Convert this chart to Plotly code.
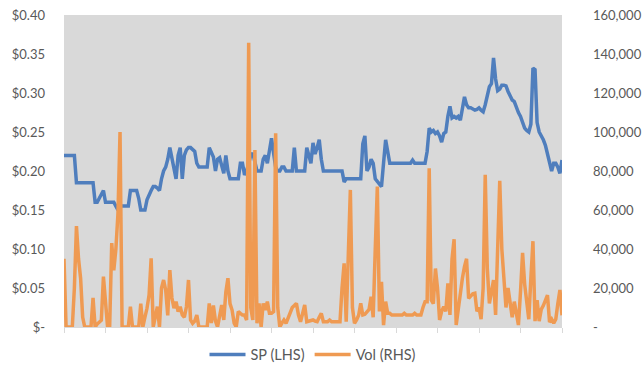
import plotly.graph_objects as go

# Share price ($), one value per trading day
sp = [
    0.22, 0.22, 0.22, 0.22, 0.22, 0.22, 0.185, 0.185, 0.185, 0.185,
    0.185, 0.185, 0.185, 0.185, 0.185, 0.16, 0.16, 0.165, 0.17, 0.175,
    0.16, 0.16, 0.16, 0.16, 0.16, 0.155, 0.15, 0.155, 0.155, 0.155,
    0.155, 0.155, 0.175, 0.175, 0.175, 0.175, 0.165, 0.15, 0.15, 0.15,
    0.163, 0.17, 0.175, 0.18, 0.18, 0.178, 0.175, 0.19, 0.2, 0.205,
    0.215, 0.23, 0.215, 0.2, 0.19, 0.22, 0.23, 0.19, 0.22, 0.227,
    0.23, 0.23, 0.227, 0.225, 0.21, 0.205, 0.205, 0.205, 0.205, 0.205,
    0.23, 0.225, 0.218, 0.2, 0.215, 0.217, 0.205, 0.197, 0.22, 0.2,
    0.19, 0.19, 0.19, 0.19, 0.19, 0.21, 0.21, 0.195, 0.2, 0.21,
    0.22, 0.223, 0.21, 0.2, 0.2, 0.2, 0.215, 0.22, 0.21, 0.225,
    0.242, 0.223, 0.205, 0.2, 0.2, 0.205, 0.205, 0.2, 0.2, 0.2,
    0.2, 0.23, 0.2, 0.2, 0.2, 0.2, 0.2, 0.23, 0.22, 0.21,
    0.236, 0.222, 0.23, 0.24, 0.215, 0.2, 0.2, 0.2, 0.2, 0.2,
    0.2, 0.2, 0.2, 0.2, 0.2, 0.186, 0.19, 0.19, 0.19, 0.19,
    0.19, 0.19, 0.19, 0.19, 0.235, 0.245, 0.2, 0.205, 0.215, 0.21,
    0.19, 0.186, 0.182, 0.18, 0.21, 0.24, 0.225, 0.21, 0.21, 0.21,
    0.21, 0.21, 0.21, 0.21, 0.21, 0.21, 0.21, 0.21, 0.214, 0.21,
    0.21, 0.21, 0.21, 0.21, 0.21, 0.225, 0.255, 0.25, 0.252, 0.248,
    0.25, 0.245, 0.237, 0.248, 0.25, 0.27, 0.283, 0.268, 0.27, 0.268,
    0.27, 0.265, 0.282, 0.295, 0.285, 0.281, 0.281, 0.279, 0.278, 0.279,
    0.281, 0.278, 0.276, 0.285, 0.298, 0.308, 0.312, 0.345, 0.318, 0.303,
    0.305, 0.31, 0.31, 0.309, 0.302, 0.297, 0.291, 0.289, 0.281, 0.275,
    0.27, 0.262, 0.255, 0.252, 0.25, 0.26, 0.332, 0.33, 0.262, 0.25,
    0.246, 0.24, 0.233, 0.222, 0.21, 0.2, 0.21, 0.21, 0.205, 0.197,
    0.214,
]

# Daily volume (shares)
vol = [
    35000, 0, 0, 0, 0, 20000, 51800, 35000, 25000, 5000,
    0, 0, 0, 0, 15000, 0, 1500, 2500, 3500, 25800,
    10000, 0, 0, 43000, 29000, 40000, 58000, 100000, 0, 0,
    0, 0, 10400, 0, 0, 0, 0, 12000, 0, 5000,
    9600, 16400, 35200, 0, 5000, 10400, 0, 20000, 24100, 19000,
    6000, 29200, 15000, 9600, 13000, 7900, 10400, 6150, 5000, 10400,
    24100, 3600, 1900, 3000, 6150, 0, 0, 0, 0, 0,
    12100, 2000, 11000, 3000, 0, 5000, 11300, 3600, 18000, 25000,
    12000, 8700, 2000, 0, 7900, 7000, 6150, 6150, 3600, 145800,
    10000, 3600, 90800, 1900, 12100, 0, 12100, 8700, 13000, 7000,
    7000, 7900, 99300, 10000, 0, 2000, 3600, 1900, 5000, 7900,
    10000, 11000, 12100, 6150, 2700, 7000, 11300, 2700, 3000, 3600,
    3600, 3000, 2700, 5000, 7000, 2700, 2700, 2700, 3600, 2700,
    2700, 2700, 2700, 2700, 20000, 32600, 2700, 40000, 70300, 10000,
    1900, 3600, 6000, 12100, 6150, 6500, 7500, 9000, 15500, 5000,
    40000, 72000, 8000, 23200, 1000, 13000, 7000, 7000, 6150, 6150,
    6150, 6150, 6150, 6150, 7000, 6150, 6150, 6150, 6150, 7000,
    6150, 6150, 6150, 10000, 13000, 13000, 81400, 13800, 12000, 30000,
    20000, 3600, 8000, 10400, 8000, 22400, 6150, 35000, 45000, 1000,
    10000, 19000, 25000, 31000, 35000, 14700, 16000, 17000, 17300, 8000,
    10000, 4000, 20000, 78000, 30000, 12100, 18000, 24100, 6150, 40000,
    75000, 40000, 22000, 10000, 20000, 12000, 5000, 13000, 8000, 1000,
    18000, 38000, 22000, 11000, 4000, 25000, 44000, 3000, 13800, 3000,
    9000, 11000, 14000, 16400, 2500, 4000, 2000, 4000, 12000, 19000,
    6000,
]

days = list(range(len(sp)))

left_vals = [0, 0.05, 0.10, 0.15, 0.20, 0.25, 0.30, 0.35, 0.40]
left_text = ["$-", "$0.05", "$0.10", "$0.15", "$0.20", "$0.25", "$0.30", "$0.35", "$0.40"]
right_vals = [0, 20000, 40000, 60000, 80000, 100000, 120000, 140000, 160000]
right_text = ["-", "20,000", "40,000", "60,000", "80,000", "100,000", "120,000", "140,000", "160,000"]
x_ticks = list(range(0, len(sp), 20))

FONT = "Lato, 'Liberation Sans', sans-serif"
GREY = "#595959"

fig = go.Figure()
fig.add_trace(go.Scatter(
    x=days, y=sp, name="SP (LHS)", mode="lines",
    line=dict(color="#4F7EBD", width=3.5, shape="linear"),
    yaxis="y",
))
fig.add_trace(go.Scatter(
    x=days, y=vol, name="Vol (RHS)", mode="lines",
    line=dict(color="#EF9A52", width=3.5),
    yaxis="y2",
))

fig.update_layout(
    width=642, height=382,
    margin=dict(l=64, r=80, t=15, b=55, autoexpand=False),
    paper_bgcolor="white",
    plot_bgcolor="#D9D9D9",
    font=dict(family=FONT, size=13, color=GREY),
    showlegend=True,
    legend=dict(
        orientation="h", x=0.5, xanchor="center", y=-0.088, yanchor="middle",
        font=dict(family=FONT, size=14.5, color=GREY),
        itemwidth=36, bgcolor="rgba(0,0,0,0)",
    ),
    xaxis=dict(
        range=[0, len(sp) - 1],
        showgrid=False, zeroline=False,
        showticklabels=False,
        tickmode="array", tickvals=x_ticks,
        ticks="outside", ticklen=5, tickcolor="#D9D9D9", tickwidth=1,
        showline=True, linecolor="#D9D9D9", linewidth=1,
    ),
    yaxis=dict(
        range=[0, 0.40],
        tickmode="array", tickvals=left_vals, ticktext=left_text,
        showgrid=False, zeroline=False, showline=False,
        ticks="", ticklabelstandoff=18, ticklabeloverflow="allow",
        tickfont=dict(family=FONT, size=13, color=GREY),
    ),
    yaxis2=dict(
        range=[0, 160000], overlaying="y", side="right",
        tickmode="array", tickvals=right_vals, ticktext=right_text,
        showgrid=False, zeroline=False, showline=False,
        ticks="", ticklabelstandoff=30, ticklabeloverflow="allow",
        tickfont=dict(family=FONT, size=13, color=GREY),
    ),
)

# remove the default 8px page margin so the figure fills the window exactly
fig.write_html(
    "out.html",
    config={"displayModeBar": False},
    post_script="document.body.style.margin='0';",
)
